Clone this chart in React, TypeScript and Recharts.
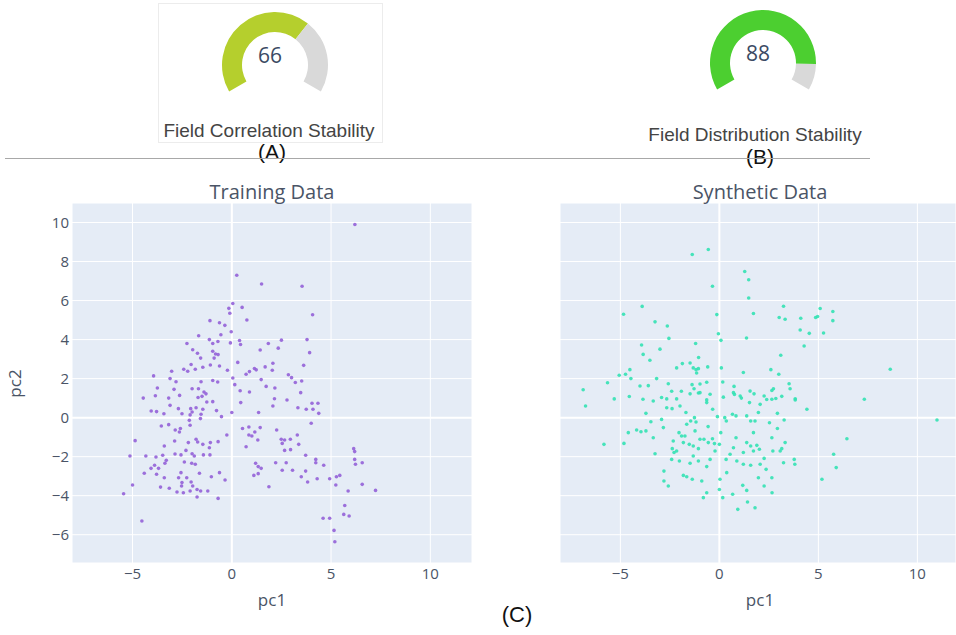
import React from 'react';
import {
  ScatterChart,
  Scatter,
  XAxis,
  YAxis,
  CartesianGrid,
  ReferenceLine,
  PieChart,
  Pie,
  Cell,
  Label,
} from 'recharts';

// gauge scores
const correlationScore = 66;
const distributionScore = 88;

// axis ticks
const pc1Ticks = [-5, 0, 5, 10];
const pc2Ticks = [-6, -4, -2, 0, 2, 4, 6, 8, 10];

// [pc1, pc2]
const trainingPoints: [number, number][] = [
  [6.2, 9.9], [0.25, 7.3], [1.5, 6.85], [3.54, 6.73], [4.07, 5.27], [0.05, 5.85], [-0.15, 5.6],
  [-0.1, 5.35], [0.52, 5.65], [0.76, 5.0], [-1.1, 4.97], [-0.62, 4.86], [-0.35, 4.73], [-0.03, 4.4],
  [-0.55, 4.25], [-1.67, 4.2], [-1.13, 4.0], [-0.7, 3.9], [-0.96, 3.8], [-0.07, 3.83], [0.39, 3.95],
  [0.44, 3.75], [1.43, 3.47], [1.84, 3.8], [2.34, 3.56], [2.5, 3.97], [3.79, 4.0], [3.92, 3.33],
  [3.62, 2.68], [-2.26, 3.8], [-1.97, 3.48], [-1.73, 3.3], [-1.57, 3.05], [-0.96, 3.4], [-0.82, 3.26],
  [-0.69, 3.23], [-0.89, 3.05], [-2.05, 2.72], [-2.42, 2.48], [-1.84, 2.48], [-2.22, 2.38], [-1.46, 2.58],
  [-1.08, 2.7], [-0.62, 2.65], [-0.22, 2.43], [0.3, 2.83], [1.14, 2.52], [1.68, 2.6], [1.23, 2.45],
  [0.89, 2.36], [0.72, 2.22], [2.07, 2.79], [2.04, 2.43], [2.85, 2.2], [3.01, 2.05], [3.2, 1.8],
  [3.52, 1.88], [-3.03, 2.38], [-3.94, 2.14], [-3.11, 2.0], [-2.81, 1.84], [-1.55, 1.84], [-0.96, 1.9],
  [-0.71, 1.83], [0.05, 2.03], [0.15, 1.69], [1.48, 1.95], [1.73, 1.6], [2.17, 1.52], [-3.75, 1.52],
  [-2.91, 1.45], [-2.0, 1.48], [-1.68, 1.48], [-1.4, 1.31], [-1.3, 1.22], [0.42, 1.38], [0.89, 1.31],
  [3.47, 1.28], [-4.46, 1.0], [-3.85, 1.12], [-3.18, 1.0], [-2.63, 1.14], [-1.7, 1.03], [-1.5, 1.09],
  [2.15, 0.97], [2.07, 0.6], [2.78, 0.9], [3.33, 0.51], [3.75, 0.43], [4.04, 0.74], [4.34, 0.74],
  [4.09, 0.43], [4.38, 0.22], [4.0, -0.29], [0.45, 0.77], [1.35, 0.26], [0.0, 0.26], [-0.52, 0.05],
  [-0.77, 0.36], [-0.96, 0.82], [-1.26, 0.8], [-1.46, 0.43], [-1.55, 0.17], [-1.58, -0.05], [-1.8, 0.51],
  [-2.07, 0.46], [-2.0, 0.29], [-2.1, 0.14], [-2.51, 0.2], [-2.69, 0.46], [-3.11, 0.63], [-3.42, 0.2],
  [-3.79, 0.31], [-4.06, 0.34], [-3.55, -0.43], [-3.18, -0.36], [-2.14, -0.14], [-2.1, -0.39],
  [-2.85, -0.63], [-2.64, -0.74], [-2.59, -0.56], [-3.4, -1.45], [-2.88, -1.2], [-4.87, -1.18],
  [-2.19, -1.28], [-1.8, -1.11], [-1.72, -1.25], [-1.46, -1.37], [-1.08, -1.28], [-1.13, -1.54],
  [-0.69, -1.23], [-0.25, -0.89], [0.54, -0.56], [0.86, -0.48], [1.43, -0.51], [1.16, -0.74],
  [0.86, -0.89], [1.01, -0.94], [1.31, -1.15], [0.72, -1.49], [2.26, -0.63], [2.49, -1.11],
  [2.54, -1.32], [2.66, -1.15], [2.95, -1.11], [2.66, -1.68], [2.96, -1.64], [3.3, -0.89],
  [3.37, -1.37], [3.72, -1.93], [-3.48, -1.93], [-3.82, -2.02], [-4.33, -1.97], [-5.13, -1.97],
  [-3.3, -2.19], [-2.86, -1.86], [-2.56, -1.91], [-2.31, -1.68], [-2.0, -1.85], [-1.89, -1.97],
  [-1.43, -1.91], [-1.1, -1.91], [-2.39, -2.27], [-2.02, -2.34], [-1.84, -2.39], [-3.89, -2.44],
  [-4.07, -2.6], [-3.69, -2.6], [-4.41, -2.85], [-3.37, -2.34], [-3.79, -2.9], [-3.4, -3.08],
  [-2.56, -2.82], [-2.68, -3.08], [-2.51, -3.33], [-2.53, -3.5], [-2.27, -3.08], [-2.05, -3.3],
  [-1.97, -3.5], [-1.63, -2.85], [-1.03, -3.03], [-0.62, -2.82], [-0.34, -3.2], [-3.59, -3.56],
  [-3.15, -3.62], [-2.76, -3.81], [-2.44, -3.85], [-2.1, -3.76], [-1.75, -3.68], [-1.57, -3.76],
  [-1.21, -3.76], [-1.75, -4.07], [-0.69, -4.14], [-5.0, -3.45], [-5.45, -3.9], [-4.53, -5.3],
  [1.2, -2.34], [1.33, -2.51], [1.48, -2.6], [1.11, -2.96], [1.33, -2.87], [1.87, -3.54],
  [2.21, -2.31], [2.54, -2.7], [2.74, -2.31], [3.06, -2.7], [3.5, -3.03], [3.72, -2.74],
  [3.82, -3.3], [4.23, -2.14], [4.23, -2.31], [4.63, -2.44], [4.3, -3.13], [4.93, -3.13],
  [5.27, -3.03], [5.44, -2.96], [5.24, -3.45], [5.86, -3.76], [6.14, -1.59], [6.19, -1.74],
  [6.19, -2.14], [6.23, -2.39], [6.57, -2.31], [6.57, -3.42], [7.24, -3.73], [4.6, -5.16],
  [4.93, -5.16], [5.15, -5.78], [5.19, -6.36], [5.69, -4.5], [5.64, -4.96], [5.91, -5.04],
];

// [pc1, pc2]
const syntheticPoints: [number, number][] = [
  [-0.56, 8.62], [-1.37, 8.36], [1.28, 7.49], [1.48, 7.07], [-0.35, 6.73], [1.48, 6.13], [1.72, 5.34],
  [-0.13, 5.28], [-3.9, 5.7], [-4.84, 5.3], [-3.25, 4.91], [-2.63, 4.7], [-2.55, 4.06], [-0.05, 4.3],
  [0.08, 3.96], [1.37, 4.08], [3.24, 5.71], [3.02, 5.13], [3.32, 5.04], [4.11, 5.09], [4.86, 5.13],
  [4.96, 5.18], [5.09, 5.59], [5.73, 5.44], [5.73, 4.97], [4.08, 4.49], [4.54, 4.32], [5.26, 4.34],
  [4.28, 3.67], [3.1, 3.2], [8.63, 2.48], [-1.2, 3.8], [-3.93, 3.72], [-3.85, 3.24], [-3.51, 2.94],
  [-3.0, 3.51], [-2.16, 2.55], [-1.87, 2.77], [-1.48, 2.8], [-1.32, 2.55], [-1.18, 2.46], [-1.06, 2.51],
  [-1.15, 2.29], [-1.05, 3.08], [-0.59, 2.6], [0.1, 2.55], [1.21, 2.31], [2.6, 2.46], [3.0, 2.22],
  [-4.52, 2.46], [-4.74, 2.22], [-5.06, 2.17], [-4.47, 2.0], [-3.17, 2.0], [-2.58, 1.74], [-5.65, 1.79],
  [-6.88, 1.43], [-4.01, 1.62], [-3.59, 1.64], [-2.41, 1.35], [-1.92, 1.35], [-1.38, 1.69],
  [-0.98, 1.72], [-1.28, 1.48], [-1.06, 1.26], [-1.48, 1.22], [-0.64, 1.81], [0.17, 1.83], [0.74, 1.6],
  [0.76, 1.19], [1.11, 1.0], [1.55, 1.36], [1.75, 1.22], [2.65, 1.39], [2.73, 1.48], [3.15, 1.09],
  [3.52, 1.74], [3.57, 1.48], [-5.31, 0.96], [-4.55, 1.08], [-2.66, 0.96], [-2.16, 0.96], [-0.64, 0.91],
  [0.2, 1.05], [2.39, 0.93], [2.85, 0.98], [3.83, 0.91], [-6.76, 0.6], [-3.86, 0.94], [-3.34, 0.85],
  [-2.92, 1.03], [-2.39, 0.46], [-3.71, 0.22], [-3.46, -0.21], [-2.92, -0.09], [-2.83, -0.51],
  [-3.34, -1.03], [-3.71, -0.68], [-3.96, -0.72], [-4.18, -0.63], [-4.6, -0.77], [-4.82, -1.32],
  [-5.83, -1.37], [-3.25, -1.85], [-2.8, -2.74], [-2.8, -3.25], [-2.58, -3.5], [-2.33, -1.2],
  [-2.38, -1.59], [-2.29, -1.79], [-2.04, -0.77], [-1.91, -0.94], [-1.82, -1.28], [-2.16, -1.71],
  [-2.41, -2.14], [-2.02, -2.22], [-1.69, 0.26], [-1.45, -0.17], [-1.26, 0.0], [-1.18, -0.22],
  [-1.65, -0.34], [-1.74, -0.94], [-1.52, -1.37], [-1.32, -1.45], [-0.98, -1.11], [-1.06, -1.59],
  [-1.32, -1.97], [-1.48, -2.34], [-1.06, -2.22], [-1.82, -2.96], [-1.65, -3.03], [-1.37, -3.16],
  [-0.64, 0.77], [-0.34, 0.43], [-0.1, 0.05], [0.27, 0.0], [0.35, -0.17], [0.07, -0.77], [-0.57, -0.46],
  [-0.78, -1.11], [-0.56, -1.28], [-0.35, -1.08], [-0.25, -1.33], [0.0, -1.37], [-0.22, -1.71],
  [-0.47, -2.14], [-0.64, -2.51], [-0.89, -3.25], [-0.64, -3.85], [-0.81, -4.1], [0.0, -3.68],
  [0.17, -4.1], [0.03, -3.16], [0.37, -2.82], [0.34, -2.14], [0.54, -1.88], [0.71, -1.54],
  [0.84, -1.03], [0.66, 0.17], [0.84, 0.09], [1.38, 0.09], [1.58, -0.17], [1.8, -0.17], [1.97, 0.26],
  [1.72, -0.77], [1.38, -1.28], [1.58, -1.45], [1.89, -1.42], [2.02, -1.62], [1.72, -1.71],
  [1.21, -1.79], [0.88, -2.22], [1.21, -2.39], [1.58, -2.44], [2.06, -2.39], [2.26, -2.09],
  [2.36, -2.65], [1.97, -3.08], [2.26, -3.5], [2.65, -3.08], [2.66, -3.85], [1.18, -3.47],
  [1.38, -3.73], [1.42, -4.32], [0.93, -4.7], [1.8, -4.62], [0.67, -3.93], [2.53, -0.26],
  [2.65, -1.03], [2.93, -0.56], [3.27, -0.12], [3.07, -1.71], [3.15, -1.59], [2.7, -1.71],
  [3.24, -2.31], [3.32, -1.28], [3.78, -2.14], [3.81, -2.39], [2.65, 0.94], [2.93, 0.22],
  [3.83, 0.97], [4.42, 0.43], [6.44, -1.08], [5.77, -1.88], [5.9, -2.56], [5.18, -3.16],
  [7.32, 0.94], [10.99, -0.12], [-1.23, -0.68], [-0.98, 1.28], [-0.47, 1.2], [0.71, 1.28],
  [1.05, 1.11], [1.52, 0.77], [2.06, 0.68], [2.26, 1.11], [-2.66, 0.51], [-1.99, 0.6],
];

const trainingData = trainingPoints.map(([x, y]) => ({ pc1: x, pc2: y }));
const syntheticData = syntheticPoints.map(([x, y]) => ({ pc1: x, pc2: y }));

const plotFont = '"Open Sans", Verdana, Arial, sans-serif';
const labelFont = 'Arial, "Liberation Sans", sans-serif';
const tickColor = '#4a5466';
const titleColor = '#4a5466';

const minusFmt = (v: number) => (v < 0 ? `\u2212${Math.abs(v)}` : `${v}`);

const Dot = (color: string) => (props: any) => {
  const { cx, cy } = props;
  if (cx == null || cy == null) return null;
  return <circle cx={cx} cy={cy} r={1.8} fill={color} fillOpacity={0.9} />;
};

const Gauge = ({ value, color, cx, cy }: { value: number; color: string; cx: number; cy: number }) => {
  const slices = [
    { name: 'score', v: value },
    { name: 'rest', v: 100 - value },
  ];
  return (
    <div style={{ position: 'absolute', left: cx - 60, top: cy - 60 }}>
      <PieChart width={120} height={120}>
        <Pie
          data={slices}
          dataKey="v"
          cx={60}
          cy={60}
          startAngle={210}
          endAngle={-30}
          innerRadius={33}
          outerRadius={53}
          stroke="none"
          isAnimationActive={false}
        >
          <Cell fill={color} />
          <Cell fill="#d9d9d9" />
          <Label
            value={value}
            position="center"
            fill="#3b4a63"
            fontSize={21}
            fontFamily={plotFont}
            dy={-4}
          />
        </Pie>
      </PieChart>
    </div>
  );
};

const abs = (left: number, top: number, extra: React.CSSProperties = {}): React.CSSProperties => ({
  position: 'absolute',
  left,
  top,
  whiteSpace: 'nowrap',
  lineHeight: 1,
  ...extra,
});

export default function App() {
  return (
    <div style={{ position: 'absolute', left: 0, top: 0, width: 956, height: 635, background: '#fff', overflow: 'hidden' }}>
      {/* panel A box */}
      <div style={abs(158, 3, { width: 225, height: 140, border: '1px solid #ececec', boxSizing: 'border-box' })} />

      <Gauge value={correlationScore} color="#b5cf2d" cx={270} cy={60} />
      <Gauge value={distributionScore} color="#4ccf30" cx={758} cy={58} />

      <div style={abs(119, 121, { width: 300, textAlign: 'center', fontFamily: labelFont, fontSize: 19, color: '#444' })}>
        Field Correlation Stability
      </div>
      <div style={abs(605, 125, { width: 300, textAlign: 'center', fontFamily: labelFont, fontSize: 19, color: '#444' })}>
        Field Distribution Stability
      </div>
      <div style={abs(222, 141, { width: 100, textAlign: 'center', fontFamily: labelFont, fontSize: 21, color: '#111' })}>
        (A)
      </div>
      <div style={abs(710, 146, { width: 100, textAlign: 'center', fontFamily: labelFont, fontSize: 21, color: '#111' })}>
        (B)
      </div>

      <div style={abs(5, 158, { width: 865, height: 1, background: '#a8a8a8' })} />

      {/* training scatter */}
      <div style={abs(0, 170)}>
        <ScatterChart width={480} height={465} margin={{ top: 33, right: 8, left: 22, bottom: 42 }}>
          <CartesianGrid fill="#e5ecf6" stroke="#ffffff" strokeWidth={1} />
          <XAxis
            type="number"
            dataKey="pc1"
            domain={[-8.05, 12.1]}
            ticks={pc1Ticks}
            allowDataOverflow
            axisLine={false}
            tickLine={false}
            tickSize={0}
            tickMargin={5}
            height={30}
            tick={{ fill: tickColor, fontSize: 15, fontFamily: plotFont }}
            tickFormatter={minusFmt}
          />
          <YAxis
            type="number"
            dataKey="pc2"
            domain={[-7.45, 11]}
            ticks={pc2Ticks}
            allowDataOverflow
            axisLine={false}
            tickLine={false}
            tickSize={0}
            tickMargin={3}
            width={50}
            tick={{ fill: tickColor, fontSize: 15, fontFamily: plotFont }}
            tickFormatter={minusFmt}
          />
          <ReferenceLine x={0} stroke="#ffffff" strokeWidth={2} />
          <ReferenceLine y={0} stroke="#ffffff" strokeWidth={2} />
          <Scatter data={trainingData} shape={Dot('#9462d8')} isAnimationActive={false} />
        </ScatterChart>
      </div>

      {/* synthetic scatter */}
      <div style={abs(480, 170)}>
        <ScatterChart width={476} height={465} margin={{ top: 33, right: 0, left: 80, bottom: 42 }}>
          <CartesianGrid fill="#e5ecf6" stroke="#ffffff" strokeWidth={1} />
          <XAxis
            type="number"
            dataKey="pc1"
            domain={[-8.05, 11.95]}
            ticks={pc1Ticks}
            allowDataOverflow
            axisLine={false}
            tickLine={false}
            tickSize={0}
            tickMargin={5}
            height={30}
            tick={{ fill: tickColor, fontSize: 15, fontFamily: plotFont }}
            tickFormatter={minusFmt}
          />
          <YAxis
            type="number"
            dataKey="pc2"
            domain={[-7.45, 11]}
            ticks={pc2Ticks}
            allowDataOverflow
            hide
          />
          <ReferenceLine x={0} stroke="#ffffff" strokeWidth={2} />
          <ReferenceLine y={0} stroke="#ffffff" strokeWidth={2} />
          <Scatter data={syntheticData} shape={Dot('#33e2b4')} isAnimationActive={false} />
        </ScatterChart>
      </div>

      {/* panel titles, drawn above the plot areas */}
      <div style={abs(122, 182, { width: 300, textAlign: 'center', fontFamily: plotFont, fontSize: 20, color: titleColor, zIndex: 2 })}>
        Training Data
      </div>
      <div style={abs(610, 182, { width: 300, textAlign: 'center', fontFamily: plotFont, fontSize: 20, color: titleColor, zIndex: 2 })}>
        Synthetic Data
      </div>

      {/* axis titles */}
      <div style={abs(222, 591, { width: 100, textAlign: 'center', fontFamily: plotFont, fontSize: 17, color: tickColor })}>pc1</div>
      <div style={abs(710, 591, { width: 100, textAlign: 'center', fontFamily: plotFont, fontSize: 17, color: tickColor })}>pc1</div>
      <div
        style={abs(-36, 375, {
          width: 100,
          textAlign: 'center',
          fontFamily: plotFont,
          fontSize: 17,
          color: tickColor,
          transform: 'rotate(-90deg)',
        })}
      >
        pc2
      </div>

      <div style={abs(467, 604, { width: 100, textAlign: 'center', fontFamily: labelFont, fontSize: 22, color: '#111' })}>
        (C)
      </div>
    </div>
  );
}
